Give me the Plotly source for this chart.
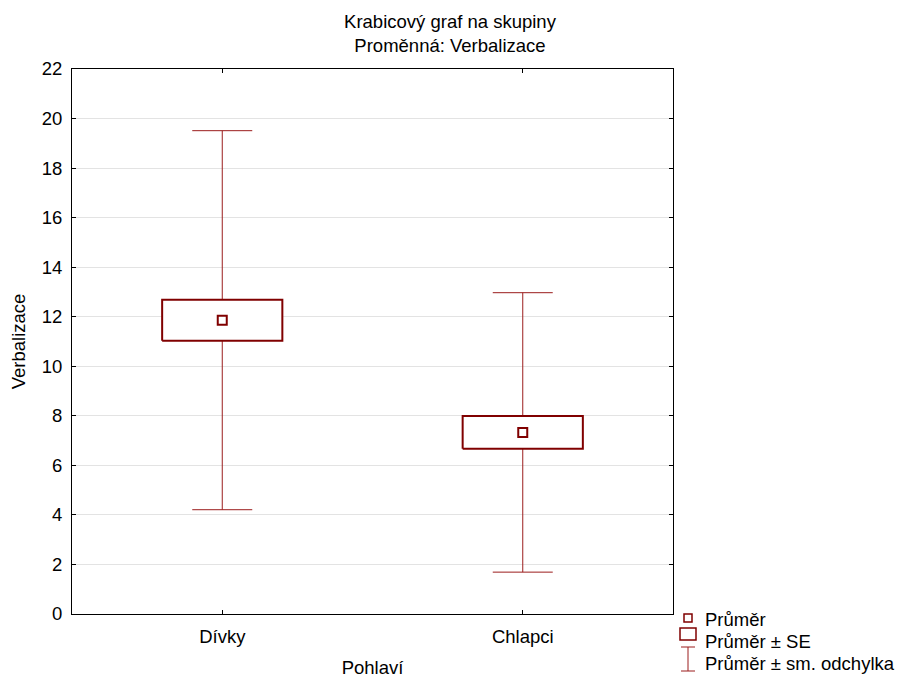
import plotly.graph_objects as go

categories = ["Dívky", "Chlapci"]
means = [11.86, 7.33]
se = [0.83, 0.66]
sd = [7.65, 5.64]
y_ticks = [0, 2, 4, 6, 8, 10, 12, 14, 16, 18, 20, 22]

DARK = "#800000"
WHISK = "#9b1c1c"
FONT = "Arial, Liberation Sans, sans-serif"
FS = 18.5

xs = list(range(len(categories)))
fig = go.Figure()

# whiskers (mean ± SD)
fig.add_trace(go.Scatter(
    x=xs, y=means, mode="markers", marker=dict(size=1, color="rgba(0,0,0,0)"),
    error_y=dict(type="data", array=sd, symmetric=True, color=WHISK, thickness=1, width=30),
    showlegend=False, hoverinfo="skip"))

# boxes (mean ± SE)
bw = 0.2
for xi, m, s in zip(xs, means, se):
    fig.add_trace(go.Scatter(
        x=[xi - bw, xi + bw, xi + bw, xi - bw, xi - bw],
        y=[m - s, m - s, m + s, m + s, m - s],
        mode="lines", fill="toself", fillcolor="white",
        line=dict(color=DARK, width=2), showlegend=False, hoverinfo="skip"))

# means
fig.add_trace(go.Scatter(
    x=xs, y=means, mode="markers",
    marker=dict(symbol="square-open", size=9, color=DARK, line=dict(width=2, color=DARK)),
    showlegend=False))

# manual legend (pixel -> paper)
L, T, R, B = 72, 69, 673, 614
PW, PH = R - L, B - T
def px(xp):
    return (xp - L) / PW
def py(yp):
    return (B - yp) / PH

shapes = []
shapes.append(dict(type="rect", xref="paper", yref="paper", x0=px(684), x1=px(692), y0=py(622), y1=py(614),
                   line=dict(color=DARK, width=1.5), fillcolor="white"))
shapes.append(dict(type="rect", xref="paper", yref="paper", x0=px(680), x1=px(696), y0=py(640), y1=py(628),
                   line=dict(color=DARK, width=1.5), fillcolor="white"))
shapes.append(dict(type="line", xref="paper", yref="paper", x0=px(688), x1=px(688), y0=py(671), y1=py(647),
                   line=dict(color=WHISK, width=1)))
shapes.append(dict(type="line", xref="paper", yref="paper", x0=px(681), x1=px(695), y0=py(647), y1=py(647),
                   line=dict(color=WHISK, width=1)))
shapes.append(dict(type="line", xref="paper", yref="paper", x0=px(681), x1=px(695), y0=py(671), y1=py(671),
                   line=dict(color=WHISK, width=1)))

legend_labels = ["Průměr", "Průměr ± SE", "Průměr ± sm. odchylka"]
legend_y = [619, 641, 663]
annotations = []
for lab, yy in zip(legend_labels, legend_y):
    annotations.append(dict(text=lab, xref="paper", yref="paper", x=px(703), y=py(yy),
                            xanchor="left", yanchor="middle", showarrow=False,
                            font=dict(family=FONT, size=FS, color="black")))

fig.update_layout(
    width=900, height=678,
    paper_bgcolor="white", plot_bgcolor="white",
    margin=dict(l=L, r=900 - R, t=T, b=678 - B, pad=0, autoexpand=False),
    title=dict(text="Krabicový graf na skupiny<br>Proměnná: Verbalizace",
               x=0.5, xref="container", xanchor="center",
               y=1 - 27.5 / 678, yref="container", yanchor="middle",
               font=dict(family=FONT, size=FS, color="black")),
    font=dict(family=FONT, size=FS, color="black"),
    shapes=shapes, annotations=annotations,
    showlegend=False,
)
fig.update_xaxes(
    range=[-0.5, 1.5], tickvals=xs, ticktext=categories, automargin=False,
    showgrid=False, zeroline=False, showline=True, linecolor="black", linewidth=1, mirror="ticks",
    ticks="inside", ticklen=4, tickcolor="black", ticklabelstandoff=6,
    title=dict(text="Pohlaví", standoff=20, font=dict(family=FONT, size=FS)),
    tickfont=dict(family=FONT, size=FS),
)
fig.update_yaxes(
    range=[0, 22], tickvals=y_ticks, automargin=False,
    showgrid=True, gridcolor="#e3e3e3", gridwidth=1, zeroline=False,
    showline=True, linecolor="black", linewidth=1, mirror="ticks",
    ticks="inside", ticklen=4, tickcolor="black", ticklabelstandoff=5,
    title=dict(text="Verbalizace", standoff=11, font=dict(family=FONT, size=FS)),
    tickfont=dict(family=FONT, size=FS),
)

fig.write_html("out.html", config={"displayModeBar": False},
               post_script="document.body.style.margin='0';document.body.style.overflow='hidden';")
